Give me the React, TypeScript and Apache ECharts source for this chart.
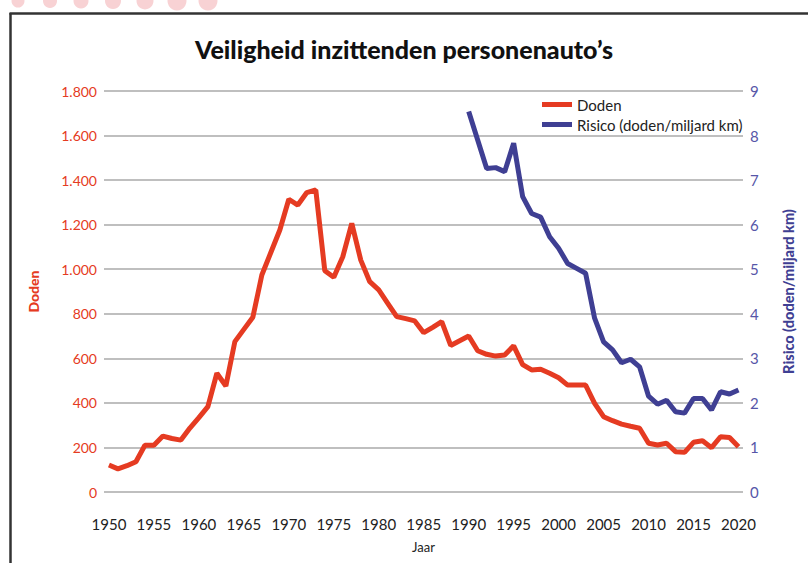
import React, { useEffect, useRef } from "react";
import * as echarts from "echarts";

const TITLE = "Veiligheid inzittenden personenauto\u2019s";
const DEATHS_START_YEAR = 1950;
const deaths = [
  121, 104, 118, 136, 210, 210, 251, 240, 233, 287,
  334, 383, 533, 476, 675, 730, 784, 974, 1075, 1176,
  1314, 1288, 1344, 1356, 993, 964, 1056, 1206, 1041, 944,
  907, 847, 787, 778, 768, 715, 739, 765, 658, 679,
  700, 634, 618, 610, 615, 656, 572, 548, 551, 533,
  513, 480, 480, 480, 398, 338, 320, 305, 295, 286,
  219, 211, 219, 181, 178, 223, 230, 199, 248, 245,
  203,
];
const RISK_START_YEAR = 1990;
const risk = [
  8.54, 7.9, 7.26, 7.28, 7.19, 7.83, 6.63, 6.25, 6.17, 5.73,
  5.47, 5.13, 5.02, 4.91, 3.9, 3.37, 3.19, 2.9, 2.98, 2.81,
  2.15, 1.97, 2.06, 1.8, 1.77, 2.1, 2.1, 1.84, 2.25, 2.2,
  2.29,
];
const xTickYears = [1950, 1955, 1960, 1965, 1970, 1975, 1980, 1985, 1990, 1995, 2000, 2005, 2010, 2015, 2020];
const circleX = [18, 50, 81, 113, 145, 177, 208];
const circleR = [6.5, 7, 7.5, 8, 8.5, 9.5, 9.5];

const RED = "#E53B22";
const BLUE = "#3F3F93";
const FONT = "Lato, 'Noto Sans', sans-serif";

export default function App() {
  const ref = useRef<HTMLDivElement>(null);
  useEffect(() => {
    if (!ref.current) return;
    const chart = echarts.init(ref.current, undefined, { renderer: "svg" });
    const deathsData = deaths.map((v, i) => [DEATHS_START_YEAR + i, v]);
    const riskData = risk.map((v, i) => [RISK_START_YEAR + i, v]);
    const fmt = (v: number) => String(v).replace(/\B(?=(\d{3})+(?!\d))/g, ".");
    chart.setOption({
      animation: false,
      backgroundColor: "#fff",
      textStyle: { fontFamily: FONT },
      title: {
        text: TITLE,
        left: "center",
        top: 31,
        textStyle: { fontFamily: FONT, fontSize: 25, fontWeight: 900, color: "#111" },
      },
      graphic: [
        { type: "line", shape: { x1: 10.5, y1: 13, x2: 10.5, y2: 563 }, style: { stroke: "#333", lineWidth: 2.5 } },
        { type: "line", shape: { x1: 9.5, y1: 13.5, x2: 808, y2: 13.5 }, style: { stroke: "#333", lineWidth: 2.5 } },
        ...circleX.map((cx, i) => ({
          type: "circle",
          shape: { cx, cy: 1, r: circleR[i] },
          style: { fill: "#F8D2D4" },
        })),
      ],
      legend: {
        orient: "vertical",
        left: 537,
        top: 92,
        icon: "rect",
        itemWidth: 30,
        itemHeight: 5,
        itemGap: 5,
        textStyle: { fontFamily: FONT, fontSize: 15, color: "#222", lineHeight: 15 },
        data: ["Doden", "Risico (doden/miljard km)"],
      },
      grid: { left: 104, right: 65, top: 91, bottom: 71, containLabel: false },
      xAxis: {
        type: "value",
        min: 1949.45,
        max: 2020.5,
        name: "Jaar",
        nameLocation: "middle",
        nameGap: 48,
        nameTextStyle: { fontFamily: FONT, fontSize: 13, color: "#222" },
        axisLine: { show: false },
        axisTick: { show: false },
        splitLine: { show: false },
        axisLabel: {
          customValues: xTickYears,
          formatter: (v: number) => String(v),
          fontFamily: FONT,
          fontSize: 15,
          color: "#222",
          margin: 24,
        },
      },
      yAxis: [
        {
          type: "value",
          min: 0,
          max: 1800,
          interval: 200,
          position: "left",
          name: "Doden",
          nameLocation: "middle",
          nameRotate: 90,
          nameGap: 64,
          nameTextStyle: { fontFamily: FONT, fontSize: 14, fontWeight: 900, color: RED },
          axisLine: { show: false },
          axisTick: { show: false },
          axisLabel: { formatter: fmt, fontFamily: FONT, fontSize: 14, color: RED, margin: 7 },
          splitLine: { lineStyle: { color: "#aaa", width: 1.5 } },
        },
        {
          type: "value",
          min: 0,
          max: 9,
          interval: 1,
          position: "right",
          name: "Risico (doden/miljard km)",
          nameLocation: "middle",
          nameRotate: 90,
          nameGap: 38,
          nameTextStyle: { fontFamily: FONT, fontSize: 14.5, fontWeight: 900, color: BLUE },
          axisLine: { show: false },
          axisTick: { show: false },
          axisLabel: { fontFamily: FONT, fontSize: 15, color: "#5656A8", margin: 7 },
          splitLine: { show: false },
        },
      ],
      series: [
        {
          name: "Doden",
          type: "line",
          yAxisIndex: 0,
          data: deathsData,
          symbol: "none",
          color: RED,
          lineStyle: { color: RED, width: 5 },
        },
        {
          name: "Risico (doden/miljard km)",
          type: "line",
          yAxisIndex: 1,
          data: riskData,
          symbol: "none",
          color: BLUE,
          lineStyle: { color: BLUE, width: 5 },
        },
      ],
    });
    return () => chart.dispose();
  }, []);
  return (
    <div
      ref={ref}
      style={{ position: "fixed", left: 0, top: 0, width: 808, height: 563, background: "#fff" }}
    />
  );
}
